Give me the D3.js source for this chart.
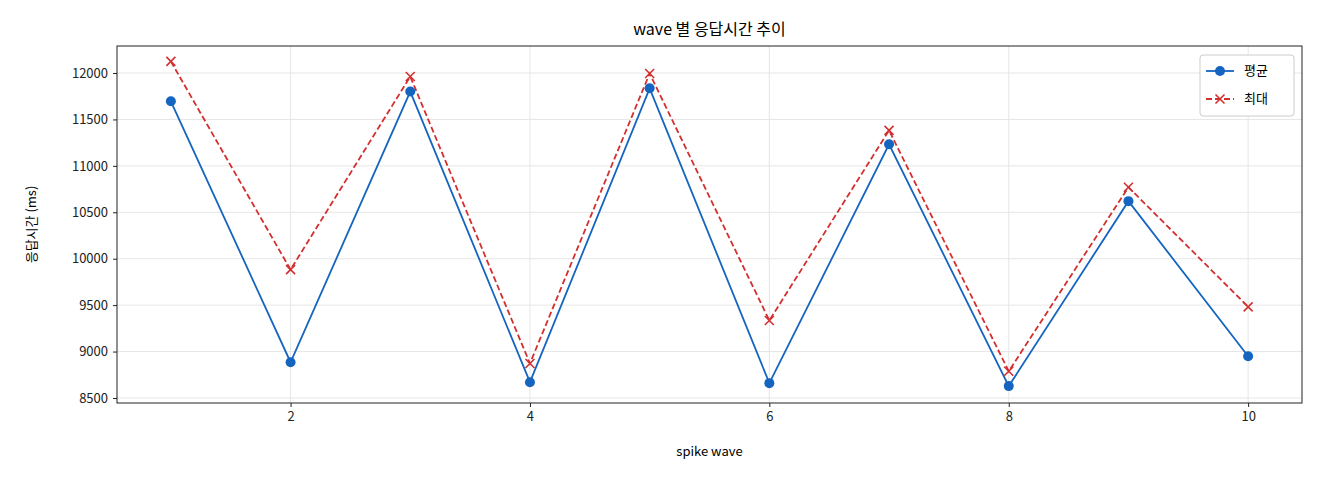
<!DOCTYPE html>
<html><head><meta charset="utf-8">
<script src="https://cdn.jsdelivr.net/npm/d3@7"></script>
<style>body{margin:0;background:#fff}text{font-family:"Noto Sans CJK KR","Noto Sans",sans-serif}</style>
</head><body><svg id="c" width="1320" height="480"></svg>
<script>
const waves=[1,2,3,4,5,6,7,8,9,10];
const avgVals=[11695,8885,11800,8670,11835,8660,11232,8628,10620,8950];
const maxVals=[12125,9882,11962,8872,11995,9335,11382,8788,10770,9482];
const xTicks=[2,4,6,8,10];
const yTicks=[8500,9000,9500,10000,10500,11000,11500,12000];
const svg=d3.select("#c");
const L=117,R=1302,T=46,B=403;
const x=d3.scaleLinear().domain([0.55,10.45]).range([L,R]);
const y=d3.scaleLinear().domain([8446,12291]).range([B,T]);
const g=svg.append("g");
g.selectAll(".gx").data(xTicks).enter().append("line").attr("x1",d=>x(d)).attr("x2",d=>x(d)).attr("y1",T).attr("y2",B).attr("stroke","#e6e6e6");
g.selectAll(".gy").data(yTicks).enter().append("line").attr("y1",d=>y(d)).attr("y2",d=>y(d)).attr("x1",L).attr("x2",R).attr("stroke","#e6e6e6");
const xa=svg.append("g").attr("transform",`translate(0,${B})`).call(d3.axisBottom(x).tickValues(xTicks).tickFormat(d3.format("d")).tickSize(4).tickPadding(5));
const ya=svg.append("g").attr("transform",`translate(${L},0)`).call(d3.axisLeft(y).tickValues(yTicks).tickFormat(d3.format("d")).tickSize(4).tickPadding(5));
[xa,ya].forEach(a=>{a.select(".domain").remove();a.selectAll("text").attr("font-size",13).attr("fill","#222");a.selectAll("line").attr("stroke","#222");});
svg.append("rect").attr("x",L).attr("y",T).attr("width",R-L).attr("height",B-T).attr("fill","none").attr("stroke","#222");
const line=vals=>d3.line().x((d,i)=>x(waves[i])).y(d=>y(d))(vals);
svg.append("path").attr("d",line(maxVals)).attr("fill","none").attr("stroke","#d32f2f").attr("stroke-width",1.8).attr("stroke-dasharray","6,3");
svg.append("path").attr("d",line(avgVals)).attr("fill","none").attr("stroke","#1565c0").attr("stroke-width",1.8);
svg.selectAll(".a").data(avgVals).enter().append("circle").attr("cx",(d,i)=>x(waves[i])).attr("cy",d=>y(d)).attr("r",5).attr("fill","#1565c0");
const cross=(sel,cx,cy)=>sel.append("path").attr("d",`M${cx-4.5},${cy-4.5}L${cx+4.5},${cy+4.5}M${cx-4.5},${cy+4.5}L${cx+4.5},${cy-4.5}`).attr("stroke","#d32f2f").attr("stroke-width",1.6);
maxVals.forEach((d,i)=>cross(svg,x(waves[i]),y(d)));
svg.append("text").attr("x",(L+R)/2).attr("y",35).attr("text-anchor","middle").attr("font-size",16).text("wave 별 응답시간 추이");
svg.append("text").attr("x",(L+R)/2).attr("y",456).attr("text-anchor","middle").attr("font-size",13).text("spike wave");
svg.append("text").attr("transform",`translate(36,${(T+B)/2}) rotate(-90)`).attr("text-anchor","middle").attr("font-size",13).text("응답시간 (ms)");
const lg=svg.append("g");
lg.append("rect").attr("x",1200).attr("y",55).attr("width",94).attr("height",61).attr("rx",3).attr("fill","#fff").attr("stroke","#ccc");
lg.append("line").attr("x1",1206).attr("x2",1234).attr("y1",71).attr("y2",71).attr("stroke","#1565c0").attr("stroke-width",1.8);
lg.append("circle").attr("cx",1220).attr("cy",71).attr("r",5).attr("fill","#1565c0");
lg.append("line").attr("x1",1206).attr("x2",1234).attr("y1",99).attr("y2",99).attr("stroke","#d32f2f").attr("stroke-width",1.8).attr("stroke-dasharray","6,3");
cross(lg,1220,99);
lg.append("text").attr("x",1244).attr("y",75).attr("font-size",13).text("평균");
lg.append("text").attr("x",1244).attr("y",103).attr("font-size",13).text("최대");
</script></body></html>
